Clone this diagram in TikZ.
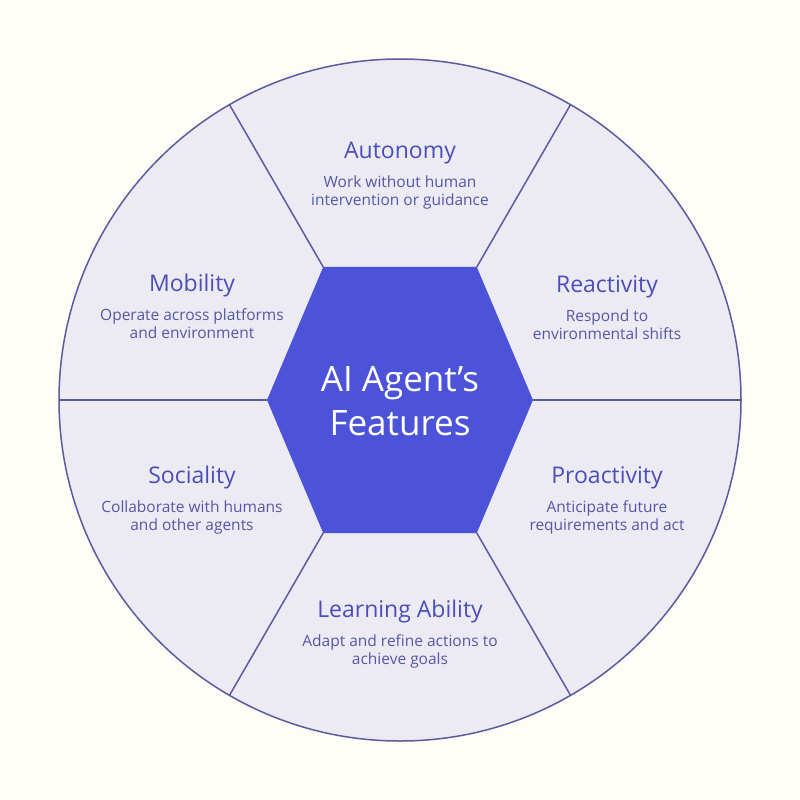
\documentclass[tikz,border=0pt]{standalone}
\usepackage{fontspec}
\setmainfont{Open Sans}
\usetikzlibrary{positioning}

\definecolor{cream}{HTML}{FEFEF6}
\definecolor{lilac}{HTML}{ECEBF4}
\definecolor{rimline}{HTML}{5B5B9F}
\definecolor{hexblue}{HTML}{4C53D9}
\definecolor{headblue}{HTML}{4A4EB6}
\definecolor{noteblue}{HTML}{5557A6}

\tikzset{
  rim/.style={draw=rimline, line width=1.5pt},
  feature/.style={font=\fontsize{23}{28}\selectfont, text=headblue, inner sep=0pt, anchor=base},
  blurb/.style={font=\fontsize{15.5}{17.5}\selectfont, text=noteblue, align=center, inner sep=0pt},
  hub/.style={font=\fontsize{35}{44}\selectfont, text=white, align=center, inner sep=0pt}
}

\begin{document}
\begin{tikzpicture}[x=1pt,y=-1pt]

  \fill[cream] (0,0) rectangle (800,800);
  \useasboundingbox (0,0) rectangle (800,800);

  \coordinate (mid) at (400,400);
  \foreach \ang/\rad [count=\i] in {0/133,60/153.6,120/153.6,180/133,240/153.6,300/153.6} {
    \coordinate (h\i) at ([shift={(mid)}]\ang:\rad);
    \coordinate (o\i) at ([shift={(mid)}]\ang:341);
  }

  \filldraw[rim, fill=lilac] (mid) circle[radius=341pt];
  \foreach \i in {1,...,6}
    \draw[rim] (h\i) -- (o\i);
  \fill[hexblue] (h1) -- (h2) -- (h3) -- (h4) -- (h5) -- (h6) -- cycle;

  \node[hub] (core) at (400,401) {AI Agent’s\\Features};

  \node[feature] (auto) at (400,158) {Autonomy};
    \node[blurb, below=47pt of auto.base, anchor=base] (auto_d) {Work without human\\intervention or guidance};
  \node[feature] (mobi) at (192,291) {Mobility};
    \node[blurb, below=47pt of mobi.base, anchor=base] (mobi_d) {Operate across platforms\\and environment};
  \node[feature] (reac) at (607,292) {Reactivity};
    \node[blurb, below=47pt of reac.base, anchor=base] (reac_d) {Respond to\\environmental shifts};
  \node[feature] (soci) at (192,483) {Sociality};
    \node[blurb, below=47pt of soci.base, anchor=base] (soci_d) {Collaborate with humans\\and other agents};
  \node[feature] (proa) at (607,483) {Proactivity};
    \node[blurb, below=47pt of proa.base, anchor=base] (proa_d) {Anticipate future\\requirements and act};
  \node[feature] (lear) at (400,617) {Learning Ability};
    \node[blurb, below=47pt of lear.base, anchor=base] (lear_d) {Adapt and refine actions to\\achieve goals};

\end{tikzpicture}
\end{document}
